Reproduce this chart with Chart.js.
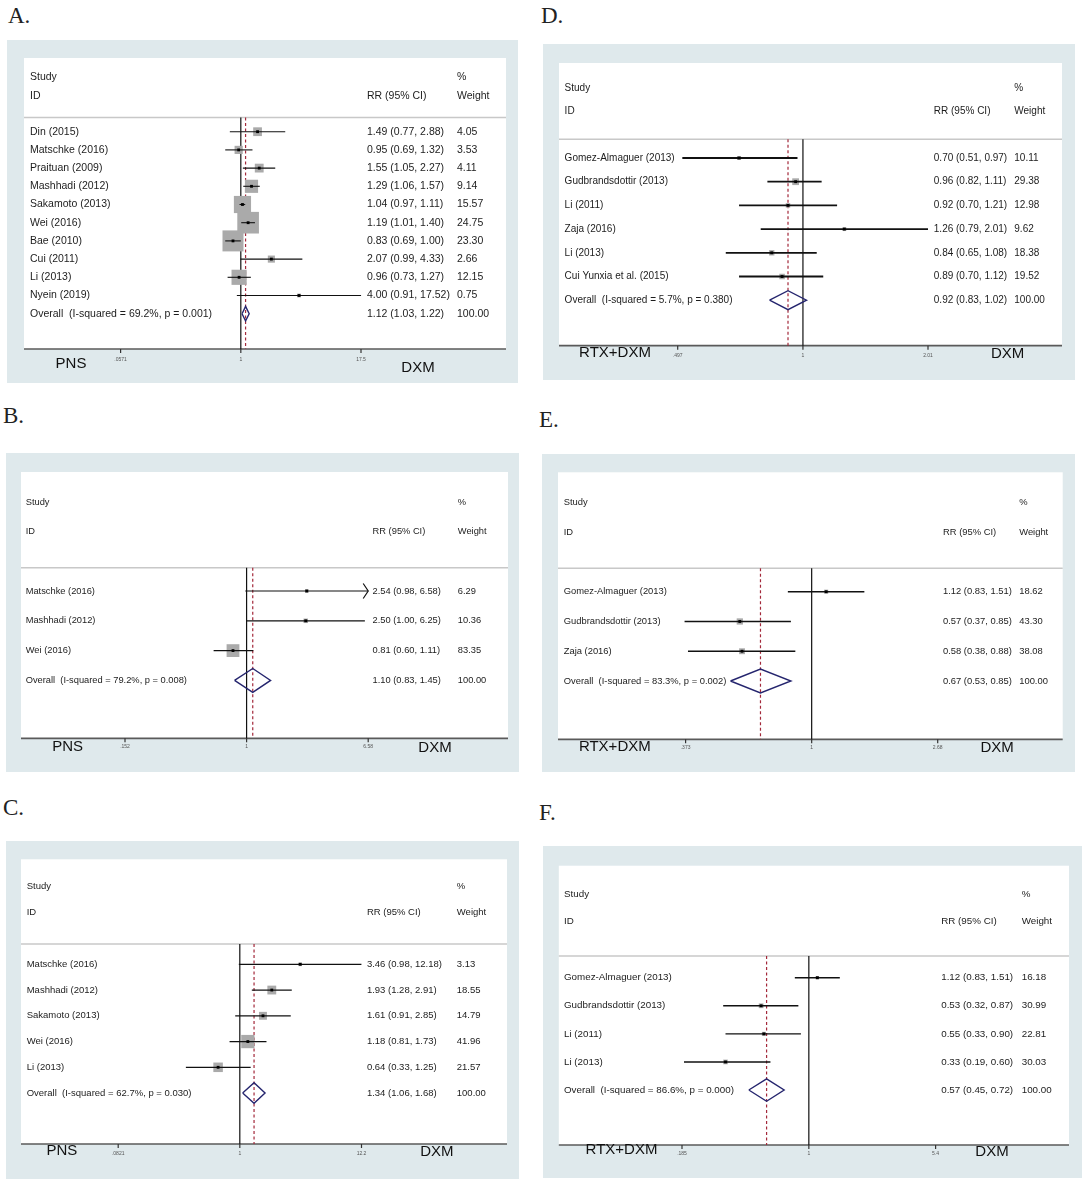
<!DOCTYPE html>
<html><head><meta charset="utf-8">
<script src="https://cdn.jsdelivr.net/npm/chart.js"></script>
<style>
body{margin:0;background:#fff;width:1084px;height:1181px;position:relative;overflow:hidden}
.lbl{position:absolute;font-family:"Liberation Serif","Times New Roman",serif;font-size:23px;color:#222;line-height:1}
canvas{position:absolute}
</style></head><body>
<div class="lbl" style="left:8px;top:4px">A.</div>
<div class="lbl" style="left:3px;top:404px">B.</div>
<div class="lbl" style="left:3px;top:796px">C.</div>
<div class="lbl" style="left:541px;top:4px">D.</div>
<div class="lbl" style="left:539px;top:408px">E.</div>
<div class="lbl" style="left:539px;top:801px">F.</div>
<script>
// ---------- DATA ----------
const studiesA = ['Din (2015)','Matschke (2016)','Praituan (2009)','Mashhadi (2012)','Sakamoto (2013)','Wei (2016)','Bae (2010)','Cui (2011)','Li (2013)','Nyein (2019)'];
const estA = [1.49,0.95,1.55,1.29,1.04,1.19,0.83,2.07,0.96,4.00];
const lowA = [0.77,0.69,1.05,1.06,0.97,1.01,0.69,0.99,0.73,0.91];
const highA = [2.88,1.32,2.27,1.57,1.11,1.40,1.00,4.33,1.27,17.52];
const weightA = [4.05,3.53,4.11,9.14,15.57,24.75,23.30,2.66,12.15,0.75];
const overallA = [1.12,1.03,1.22];
const hetA = ['69.2%','0.001'];
const ticksA = [0.0571,1,17.5];
const tickLabelsA = ['.0571','1','17.5'];
const groupsA = ['PNS','DXM'];

const studiesB = ['Matschke (2016)','Mashhadi (2012)','Wei (2016)'];
const estB = [2.54,2.50,0.81];
const lowB = [0.98,1.00,0.60];
const highB = [6.58,6.25,1.11];
const weightB = [6.29,10.36,83.35];
const overallB = [1.10,0.83,1.45];
const hetB = ['79.2%','0.008'];
const ticksB = [0.152,1,6.58];
const tickLabelsB = ['.152','1','6.58'];
const groupsB = ['PNS','DXM'];

const studiesC = ['Matschke (2016)','Mashhadi (2012)','Sakamoto (2013)','Wei (2016)','Li (2013)'];
const estC = [3.46,1.93,1.61,1.18,0.64];
const lowC = [0.98,1.28,0.91,0.81,0.33];
const highC = [12.18,2.91,2.85,1.73,1.25];
const weightC = [3.13,18.55,14.79,41.96,21.57];
const overallC = [1.34,1.06,1.68];
const hetC = ['62.7%','0.030'];
const ticksC = [0.0821,1,12.2];
const tickLabelsC = ['.0821','1','12.2'];
const groupsC = ['PNS','DXM'];

const studiesD = ['Gomez-Almaguer (2013)','Gudbrandsdottir (2013)','Li (2011)','Zaja (2016)','Li (2013)','Cui Yunxia et al. (2015)'];
const estD = [0.70,0.96,0.92,1.26,0.84,0.89];
const lowD = [0.51,0.82,0.70,0.79,0.65,0.70];
const highD = [0.97,1.11,1.21,2.01,1.08,1.12];
const weightD = [10.11,29.38,12.98,9.62,18.38,19.52];
const overallD = [0.92,0.83,1.02];
const hetD = ['5.7%','0.380'];
const ticksD = [0.497,1,2.01];
const tickLabelsD = ['.497','1','2.01'];
const groupsD = ['RTX+DXM','DXM'];

const studiesE = ['Gomez-Almaguer (2013)','Gudbrandsdottir (2013)','Zaja (2016)'];
const estE = [1.12,0.57,0.58];
const lowE = [0.83,0.37,0.38];
const highE = [1.51,0.85,0.88];
const weightE = [18.62,43.30,38.08];
const overallE = [0.67,0.53,0.85];
const hetE = ['83.3%','0.002'];
const ticksE = [0.373,1,2.68];
const tickLabelsE = ['.373','1','2.68'];
const groupsE = ['RTX+DXM','DXM'];

const studiesF = ['Gomez-Almaguer (2013)','Gudbrandsdottir (2013)','Li (2011)','Li (2013)'];
const estF = [1.12,0.53,0.55,0.33];
const lowF = [0.83,0.32,0.33,0.19];
const highF = [1.51,0.87,0.90,0.60];
const weightF = [16.18,30.99,22.81,30.03];
const overallF = [0.57,0.45,0.72];
const hetF = ['86.6%','0.000'];
const ticksF = [0.185,1,5.4];
const tickLabelsF = ['.185','1','5.4'];
const groupsF = ['RTX+DXM','DXM'];

// ---------- LAYOUT (pixels) ----------
const layouts = {
  A:{box:[7,40,518,383], inner:[24,58,506,349], header:117.5, row0:131.7, step:18.2, tickPx:[120.6,361], cols:[30,367,457], studyY:77, idY:95.7, grpL:[71,364], grpR:[418,368], tickLabY:360, font:10.5, k:4.35, lw:1.1, arrows:[]},
  B:{box:[6,453,519,772], inner:[21,472,508,738.3], header:567.7, row0:591, step:29.8, tickPx:[125,368.2], cols:[25.7,372.6,457.8], studyY:502.3, idY:531.7, grpL:[67.6,746.7], grpR:[435,748.3], tickLabY:747, font:9.3, k:1.4, lw:1.2, arrows:[0]},
  C:{box:[6,841,519,1179], inner:[21,859.3,507,1144], header:944, row0:964.3, step:25.75, tickPx:[118.2,361.5], cols:[26.7,366.9,456.8], studyY:886.7, idY:912.3, grpL:[61.8,1150.7], grpR:[436.8,1151.7], tickLabY:1154, font:9.5, k:2.05, lw:1.2, arrows:[]},
  D:{box:[543,44,1075,380], inner:[559,63,1062,345.7], header:139.3, row0:158, step:23.7, tickPx:[677.7,928], cols:[564.6,933.8,1014.3], studyY:88.3, idY:111.7, grpL:[615,352.7], grpR:[1007.7,354], tickLabY:356, font:10, k:1.25, lw:1.8, arrows:[]},
  E:{box:[542,454,1075,772], inner:[558,472.3,1062.7,739.3], header:568.3, row0:591.7, step:29.77, tickPx:[685.6,937.7], cols:[563.7,943,1019.2], studyY:502.3, idY:532, grpL:[614.8,747.3], grpR:[997.2,748], tickLabY:748, font:9.4, k:0.95, lw:1.5, arrows:[]},
  F:{box:[543,846,1082,1178], inner:[558.8,865.7,1069,1145], header:956, row0:977.7, step:28.08, tickPx:[682,935.6], cols:[564,941.2,1021.7], studyY:894.3, idY:921.7, grpL:[621.5,1150], grpR:[992,1151.7], tickLabY:1154, font:9.8, k:0.85, lw:1.4, arrows:[]}
};

const panels = [
  {id:'A', studies:studiesA, est:estA, lo:lowA, hi:highA, w:weightA, overall:overallA, het:hetA, ticks:ticksA, tickLabels:tickLabelsA, groups:groupsA},
  {id:'B', studies:studiesB, est:estB, lo:lowB, hi:highB, w:weightB, overall:overallB, het:hetB, ticks:ticksB, tickLabels:tickLabelsB, groups:groupsB},
  {id:'C', studies:studiesC, est:estC, lo:lowC, hi:highC, w:weightC, overall:overallC, het:hetC, ticks:ticksC, tickLabels:tickLabelsC, groups:groupsC},
  {id:'D', studies:studiesD, est:estD, lo:lowD, hi:highD, w:weightD, overall:overallD, het:hetD, ticks:ticksD, tickLabels:tickLabelsD, groups:groupsD},
  {id:'E', studies:studiesE, est:estE, lo:lowE, hi:highE, w:weightE, overall:overallE, het:hetE, ticks:ticksE, tickLabels:tickLabelsE, groups:groupsE},
  {id:'F', studies:studiesF, est:estF, lo:lowF, hi:highF, w:weightF, overall:overallF, het:hetF, ticks:ticksF, tickLabels:tickLabelsF, groups:groupsF}
];

const SANS = '"Liberation Sans", Arial, Helvetica, sans-serif';
const fmtCI = (e,l,h) => `${e.toFixed(2)} (${l.toFixed(2)}, ${h.toFixed(2)})`;

function makePlugin(P, L){
  const ox = L.box[0], oy = L.box[1];
  const X = v => v - ox, Y = v => v - oy;
  function line(ctx,x1,y1,x2,y2){ctx.beginPath();ctx.moveTo(x1,y1);ctx.lineTo(x2,y2);ctx.stroke();}
  return {
    id:'forest'+P.id,
    beforeDraw(chart){
      const ctx = chart.ctx, xs = chart.scales.x, ys = chart.scales.y;
      ctx.save();
      ctx.fillStyle = '#dfe9ec';
      ctx.fillRect(0,0,chart.width,chart.height);
      ctx.fillStyle = '#ffffff';
      ctx.fillRect(X(L.inner[0]), Y(L.inner[1]), L.inner[2]-L.inner[0], L.inner[3]-L.inner[1]);
      ctx.strokeStyle = '#c8c8c8'; ctx.lineWidth = 1.5;
      line(ctx, X(L.inner[0]), Y(L.header), X(L.inner[2]), Y(L.header));
      ctx.strokeStyle = '#5a5a5a'; ctx.lineWidth = 1.7;
      line(ctx, X(L.inner[0]), Y(L.inner[3]), X(L.inner[2]), Y(L.inner[3]));
      ctx.strokeStyle = '#333'; ctx.lineWidth = 1.2;
      P.ticks.forEach(t => { const px = xs.getPixelForValue(t); line(ctx, px, Y(L.inner[3]), px, Y(L.inner[3])+4); });
      ctx.font = `5px ${SANS}`; ctx.fillStyle = '#555'; ctx.textAlign = 'center'; ctx.textBaseline = 'middle';
      P.ticks.forEach((t,i) => ctx.fillText(P.tickLabels[i], xs.getPixelForValue(t), Y(L.tickLabY)));
      ctx.font = `15px ${SANS}`; ctx.fillStyle = '#111';
      ctx.fillText(P.groups[0], X(L.grpL[0]), Y(L.grpL[1]));
      ctx.fillText(P.groups[1], X(L.grpR[0]), Y(L.grpR[1]));
      ctx.font = `${L.font}px ${SANS}`; ctx.fillStyle = '#1c1c1c'; ctx.textAlign = 'left';
      ctx.fillText('Study', X(L.cols[0]), Y(L.studyY));
      ctx.fillText('ID', X(L.cols[0]), Y(L.idY));
      ctx.fillText('RR (95% CI)', X(L.cols[1]), Y(L.idY));
      ctx.fillText('%', X(L.cols[2]), Y(L.studyY));
      ctx.fillText('Weight', X(L.cols[2]), Y(L.idY));
      P.studies.forEach((s,i) => {
        const py = ys.getPixelForValue(i);
        ctx.fillText(s, X(L.cols[0]), py);
        ctx.fillText(fmtCI(P.est[i],P.lo[i],P.hi[i]), X(L.cols[1]), py);
        ctx.fillText(P.w[i].toFixed(2), X(L.cols[2]), py);
      });
      const n = P.studies.length, py = ys.getPixelForValue(n);
      ctx.fillText(`Overall  (I-squared = ${P.het[0]}, p = ${P.het[1]})`, X(L.cols[0]), py);
      ctx.fillText(fmtCI(P.overall[0],P.overall[1],P.overall[2]), X(L.cols[1]), py);
      ctx.fillText((100).toFixed(2), X(L.cols[2]), py);
      ctx.restore();
    },
    afterDatasetsDraw(chart){
      const ctx = chart.ctx, xs = chart.scales.x, ys = chart.scales.y;
      ctx.save();
      ctx.strokeStyle = '#111'; ctx.lineWidth = L.lw;
      L.arrows.forEach(i => {
        const px = xs.getPixelForValue(P.hi[i]), py = ys.getPixelForValue(i);
        ctx.beginPath(); ctx.moveTo(px-5, py-7.5); ctx.lineTo(px, py); ctx.lineTo(px-5, py+7.5); ctx.stroke();
      });
      ctx.restore();
    }
  };
}

function buildDatasets(P, L, yMin, yMax){
  const n = P.studies.length, h = 0.4, o = P.overall;
  const ds = [];
  ds.push({data:[{x:1,y:yMin},{x:1,y:yMax}], showLine:true, borderColor:'#111', borderWidth:1.2, pointRadius:0, order:9, clip:false});
  ds.push({data:[{x:o[0],y:yMin},{x:o[0],y:yMax}], showLine:true, borderColor:'#a3283a', borderWidth:1.2, borderDash:[3,2.5], pointRadius:0, order:8, clip:false});
  ds.push({data:P.est.map((e,i)=>({x:e,y:i})), pointStyle:'rect', pointRadius:P.w.map(w=>L.k*Math.sqrt(w)/Math.SQRT2), backgroundColor:'#aaaaaa', borderWidth:0, order:7, clip:false});
  P.est.forEach((e,i) => ds.push({data:[{x:P.lo[i],y:i},{x:P.hi[i],y:i}], showLine:true, borderColor:'#111', borderWidth:L.lw, pointRadius:0, order:6, clip:false}));
  ds.push({data:[{x:o[1],y:n},{x:o[0],y:n-h},{x:o[2],y:n},{x:o[0],y:n+h},{x:o[1],y:n}], showLine:true, borderColor:'#25256e', borderWidth:1.4, pointRadius:0, order:5, clip:false});
  ds.push({data:P.est.map((e,i)=>({x:e,y:i})), pointStyle:'rect', pointRadius:2, backgroundColor:'#000', borderWidth:0, order:4, clip:false});
  return ds;
}

panels.forEach(P => {
  const L = layouts[P.id];
  const w = L.box[2]-L.box[0], hgt = L.box[3]-L.box[1];
  const cv = document.createElement('canvas');
  cv.width = w; cv.height = hgt;
  cv.style.left = L.box[0]+'px'; cv.style.top = L.box[1]+'px';
  cv.style.width = w+'px'; cv.style.height = hgt+'px';
  document.body.appendChild(cv);
  const yMin = (L.header - L.row0)/L.step, yMax = (L.inner[3] - L.row0)/L.step;
  new Chart(cv, {
    type:'scatter',
    data:{datasets: buildDatasets(P, L, yMin, yMax)},
    options:{
      responsive:false, animation:false, events:[],
      layout:{padding:{left:L.tickPx[0]-L.box[0], right:L.box[2]-L.tickPx[1], top:L.header-L.box[1], bottom:L.box[3]-L.inner[3]}},
      plugins:{legend:{display:false}, tooltip:{enabled:false}},
      scales:{
        x:{type:'logarithmic', min:P.ticks[0], max:P.ticks[2], bounds:'data', display:false},
        y:{type:'linear', min:yMin, max:yMax, reverse:true, bounds:'data', display:false}
      }
    },
    plugins:[makePlugin(P, L)]
  });
});
</script>
</body></html>
